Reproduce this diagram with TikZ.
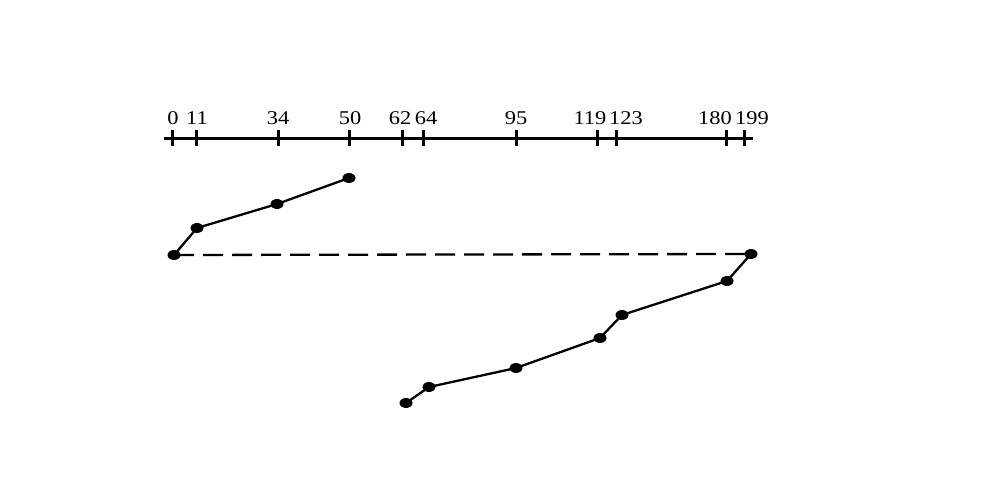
\documentclass[tikz,border=0pt]{standalone}
\usepackage{fontspec}
\setmainfont{Liberation Serif}[FakeStretch=1.15]
\usetikzlibrary{shapes.geometric}
\begin{document}
\begin{tikzpicture}[x=1pt,y=-1pt,
  dot/.style={fill=black,draw=none,ellipse,minimum width=13pt,minimum height=10pt,inner sep=0pt},
  lbl/.style={anchor=base,inner sep=0pt,font=\fontsize{19.5}{22}\selectfont},
  axisline/.style={line width=3pt},
  tickmark/.style={line width=3pt},
  seek/.style={line width=2.3pt},
  wrap/.style={line width=2.3pt,dash pattern=on 20pt off 9pt}]
\useasboundingbox (0,0) rectangle (1005,498);
% axis
\coordinate (axL) at (164,138);
\coordinate (axR) at (753,138);
\draw[axisline] (axL) -- (axR);
\foreach \v/\x/\lx in {0/172/173,11/196/197,34/278/278,50/349/350,62/402/400,64/423/426,95/516/516,119/597/590,123/616/626,180/726/715,199/744/752}{
  \coordinate (t\v) at (\x,138);
  \draw[tickmark] (\x,130) -- (\x,146);
  \node[lbl] (l\v) at (\lx,124) {\v};
}
% points
\node[dot] (p50) at (349,178) {};
\node[dot] (p34) at (277,204) {};
\node[dot] (p11) at (197,228) {};
\node[dot] (p0) at (174,255) {};
\node[dot] (p199) at (751,254) {};
\node[dot] (p180) at (727,281) {};
\node[dot] (p123) at (622,315) {};
\node[dot] (p119) at (600,338) {};
\node[dot] (p95) at (516,368) {};
\node[dot] (p64) at (429,387) {};
\node[dot] (p62) at (406,403) {};
\draw[seek] (p50.center) -- (p34.center) -- (p11.center) -- (p0.center);
\draw[wrap] (p0.center) -- (p199.center);
\draw[seek] (p199.center) -- (p180.center) -- (p123.center) -- (p119.center) -- (p95.center) -- (p64.center) -- (p62.center);
\end{tikzpicture}
\end{document}
